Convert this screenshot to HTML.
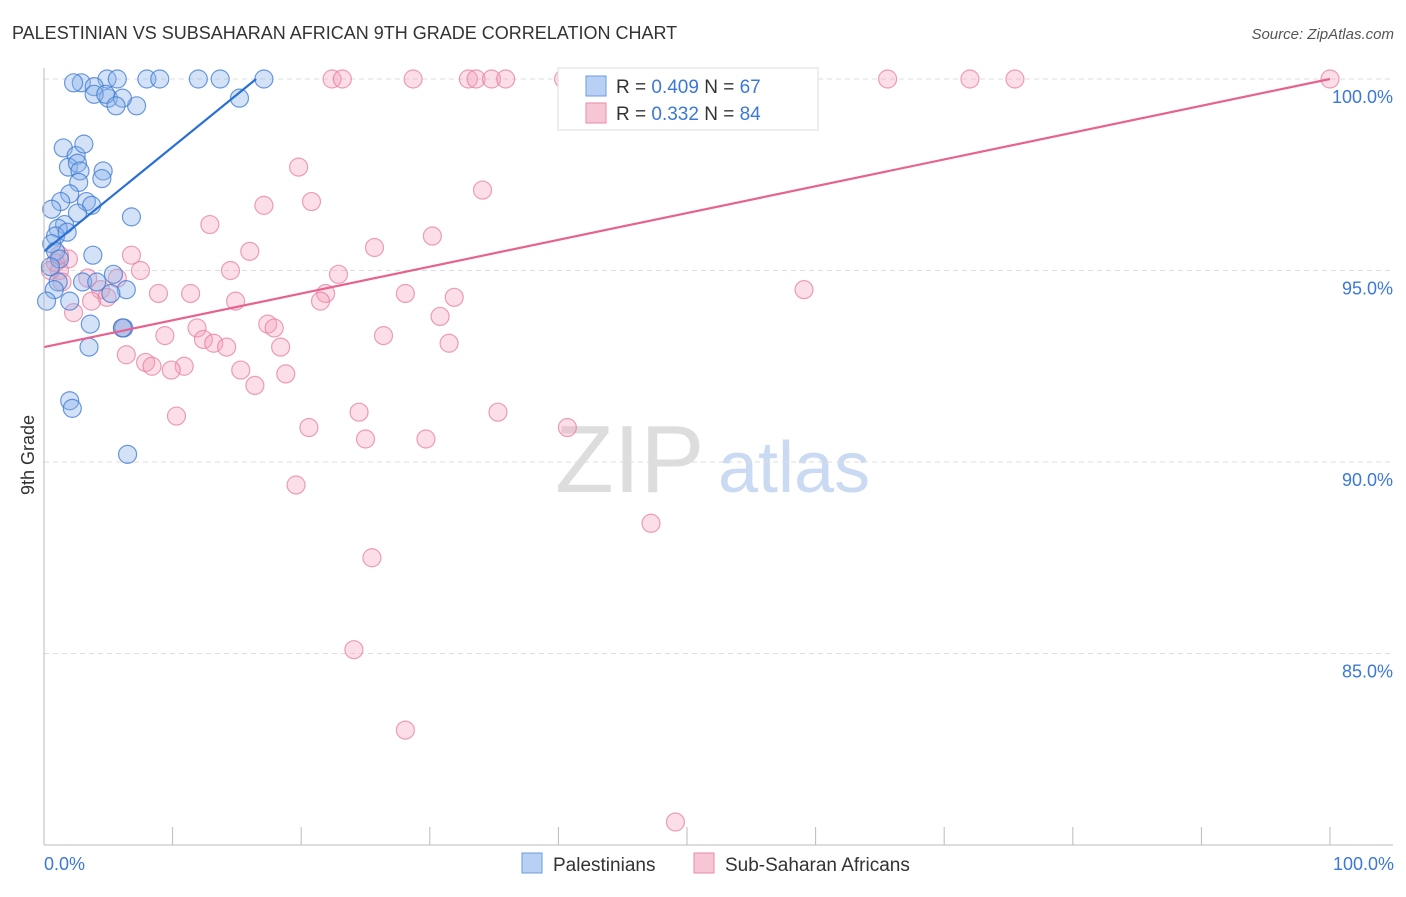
<!DOCTYPE html>
<html><head><meta charset="utf-8"><style>
body{margin:0;background:#fff;font-family:"Liberation Sans",sans-serif}
svg text{font-family:"Liberation Sans",sans-serif}
</style></head><body>
<svg id="c" width="1406" height="892">
<text x="12" y="39" font-size="18" fill="#333">PALESTINIAN VS SUBSAHARAN AFRICAN 9TH GRADE CORRELATION CHART</text>
<text x="1394" y="39" font-size="15" fill="#555" text-anchor="end" font-style="italic">Source: ZipAtlas.com</text>
<text x="555" y="492" font-size="96" fill="#ddd" font-family="Liberation Serif">ZIP</text>
<text x="718" y="492" font-size="72" fill="#c9daf2">atlas</text>
<text x="34" y="455" font-size="18" fill="#333" text-anchor="middle" transform="rotate(-90 34 455)">9th Grade</text>
<g id="grid"></g><g id="pts"></g><g id="lines"></g>
<line x1="44" y1="68" x2="44" y2="845" stroke="#bbb"/>
<line x1="44" y1="845" x2="1393" y2="845" stroke="#bbb"/>
<text x="44" y="870" font-size="18" fill="#3b78d8">0.0%</text>
<text x="1394" y="870" font-size="18" fill="#3b78d8" text-anchor="end">100.0%</text>
<g>
<rect x="558" y="68" width="260" height="62" fill="#fff" stroke="#ddd"/>
<rect x="586" y="76" width="20" height="20" fill="#b8d0f4" stroke="#6a9be0"/>
<rect x="586" y="103" width="20" height="20" fill="#f7c6d4" stroke="#e88aa6"/>
<text x="616" y="93" font-size="19" fill="#333">R = <tspan fill="#3b78d8">0.409</tspan>   N = <tspan fill="#3b78d8">67</tspan></text>
<text x="616" y="120" font-size="19" fill="#333">R =  <tspan fill="#3b78d8">0.332</tspan>   N = <tspan fill="#3b78d8">84</tspan></text>
</g>
<g>
<rect x="522" y="853" width="20" height="20" fill="#b8d0f4" stroke="#6a9be0"/>
<text x="553" y="871" font-size="19" fill="#333">Palestinians</text>
<rect x="694" y="853" width="20" height="20" fill="#f7c6d4" stroke="#e88aa6"/>
<text x="725" y="871" font-size="19" fill="#333">Sub-Saharan Africans</text>
</g>
</svg>
<script>
const yTicks=[100,95,90,85];
const yTickLabels=["100.0%","95.0%","90.0%","85.0%"];
const xTicks=[0,10,20,30,40,50,60,70,80,90,100];
const blueX=[4.9,5.7,8.0,9.0,12.0,13.7,17.1,7.2,5.0,2.9,2.3,3.9,3.9,4.8,6.1,5.6,15.2,1.5,2.5,3.1,1.9,2.6,2.8,4.6,4.5,2.7,2.0,3.3,3.7,1.3,0.6,2.6,1.6,1.1,6.8,0.9,1.8,0.6,0.9,3.8,1.2,0.5,5.4,1.1,3.0,4.1,6.4,5.2,0.8,0.2,2.0,3.6,6.2,6.1,3.5,2.0,2.2,6.5];
const blueY=[100,100,100,100,100,100,100,99.3,99.5,99.9,99.9,99.8,99.6,99.6,99.5,99.3,99.5,98.2,98.0,98.3,97.7,97.8,97.6,97.6,97.4,97.3,97.0,96.8,96.7,96.8,96.6,96.5,96.2,96.1,96.4,95.9,96.0,95.7,95.5,95.4,95.3,95.1,94.9,94.7,94.7,94.7,94.5,94.4,94.5,94.2,94.2,93.6,93.5,93.5,93.0,91.6,91.4,90.2];
const pinkX=[22.4,23.2,28.7,33.0,33.6,34.8,35.9,40.4,46.1,65.6,72.0,75.5,100,19.8,34.1,17.1,20.8,12.9,30.2,25.7,16.0,6.8,1.9,0.9,1.2,7.5,14.5,22.9,3.4,5.7,1.4,4.4,21.9,28.1,8.9,11.4,31.9,14.9,21.5,59.1,3.7,4.9,2.3,30.8,11.9,17.4,17.9,6.1,9.4,26.4,12.4,13.2,14.2,18.4,31.5,6.4,7.9,8.4,10.9,9.9,15.3,18.8,16.4,24.5,35.3,10.3,20.6,25.0,29.7,40.7,19.6,47.2,25.5,24.1,28.1,49.1,1.2,0.5];
const pinkY=[100,100,100,100,100,100,100,100,100,100,100,100,100,97.7,97.1,96.7,96.8,96.2,95.9,95.6,95.5,95.4,95.3,95.2,95.0,95.0,95.0,94.9,94.8,94.8,94.7,94.5,94.4,94.4,94.4,94.4,94.3,94.2,94.2,94.5,94.2,94.3,93.9,93.8,93.5,93.6,93.5,93.5,93.3,93.3,93.2,93.1,93.0,93.0,93.1,92.8,92.6,92.5,92.5,92.4,92.4,92.3,92.0,91.3,91.3,91.2,90.9,90.6,90.6,90.9,89.4,88.4,87.5,85.1,83.0,80.6,95.4,95.0];
const blueLine=[[0,95.5],[16.5,100]];
const pinkLine=[[0,93.0],[100,100]];
const X=v=>44+v*12.86, Y=v=>79+(100-v)*38.3;
const NS="http://www.w3.org/2000/svg";
function mk(t,a,p){const e=document.createElementNS(NS,t);for(const k in a)e.setAttribute(k,a[k]);p.appendChild(e);return e;}
const grid=document.getElementById('grid');
yTicks.forEach((v,i)=>{
 const l=mk('line',{x1:44,x2:1393,y1:Y(v),y2:Y(v),stroke:'#ddd','stroke-dasharray':'5,4'},grid);
 
 
 const t=mk('text',{x:1393,y:Y(v)+24,'font-size':18,fill:'#3b78d8','text-anchor':'end'},grid);
 t.textContent=yTickLabels[i];
 
 
});
xTicks.forEach(v=>{
 const l=mk('line',{x1:X(v),x2:X(v),y1:827,y2:845,stroke:'#bbb'},grid);
 
 
});
const pts=document.getElementById('pts');
pinkX.forEach((x,i)=>{
 const c=mk('circle',{cx:X(x),cy:Y(pinkY[i]),r:9,fill:'rgba(244,160,185,0.35)',stroke:'rgba(230,120,155,0.7)','stroke-width':1.2},pts);
 
 
});
blueX.forEach((x,i)=>{
 const c=mk('circle',{cx:X(x),cy:Y(blueY[i]),r:9,fill:'rgba(140,180,235,0.38)',stroke:'rgba(60,120,210,0.75)','stroke-width':1.2},pts);
 
 
});
const lines=document.getElementById('lines');
const bl=mk('line',{x1:X(blueLine[0][0]),y1:Y(blueLine[0][1]),x2:X(blueLine[1][0]),y2:Y(blueLine[1][1]),stroke:'#2a6fd6','stroke-width':2.2},lines);


const pl=mk('line',{x1:X(pinkLine[0][0]),y1:Y(pinkLine[0][1]),x2:X(pinkLine[1][0]),y2:Y(pinkLine[1][1]),stroke:'#e8628f','stroke-width':2.2},lines);


</script>
</body></html>
